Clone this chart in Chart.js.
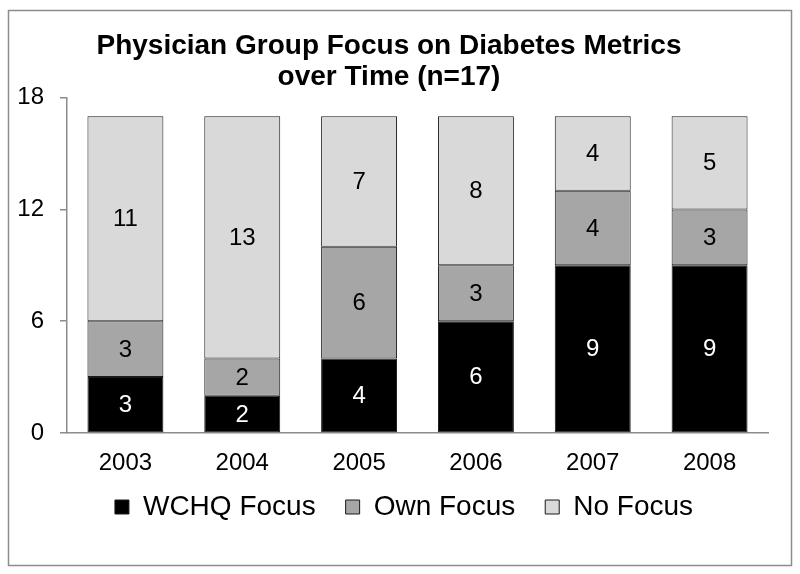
<!DOCTYPE html>
<html>
<head>
<meta charset="utf-8">
<script src="https://cdn.jsdelivr.net/npm/chart.js@4/dist/chart.umd.min.js"></script>
<style>
  html, body { margin: 0; padding: 0; background: #fff; }
  canvas { display: block; }
</style>
</head>
<body>
<canvas id="focusChart" width="800" height="574"></canvas>
<script>
// chart data
const years = ['2003', '2004', '2005', '2006', '2007', '2008'];
const wchqFocus = [3, 2, 4, 6, 9, 9];
const ownFocus = [3, 2, 6, 3, 4, 3];
const noFocus = [11, 13, 7, 8, 4, 5];
const yTicks = [0, 6, 12, 18];

const FONT = "'Liberation Sans', Arial, sans-serif";

// outer frame like the pasted office chart
const framePlugin = {
    id: 'frame',
    beforeDraw(chart) {
        const ctx = chart.ctx;
        ctx.save();
        ctx.fillStyle = '#fff';
        ctx.fillRect(0, 0, chart.width, chart.height);
        ctx.strokeStyle = '#8c8c8c';
        ctx.lineWidth = 1.5;
        ctx.strokeRect(8.5, 10.5, 783, 555);
        ctx.restore();
    }
};

// legend sits closer under the year labels than chart.js would put it
const legendNudge = {
    id: 'legendNudge',
    afterLayout(chart) {
        const lg = chart.legend;
        if (!lg) return;
        const h = lg.bottom - lg.top;
        lg.top = 463; lg.bottom = 463 + h;
        lg.left += 15; lg.right += 15;
    }
};

// value labels in the middle of every segment
const valueLabels = {
    id: 'valueLabels',
    afterDatasetsDraw(chart) {
        const ctx = chart.ctx;
        ctx.save();
        ctx.font = '24px ' + FONT;
        ctx.textAlign = 'center';
        ctx.textBaseline = 'middle';
        chart.data.datasets.forEach((ds, i) => {
            const meta = chart.getDatasetMeta(i);
            meta.data.forEach((bar, j) => {
                const v = ds.data[j];
                if (!v) return;
                ctx.fillStyle = i === 0 ? '#fff' : '#000';
                ctx.fillText(String(v), bar.x, (bar.y + bar.base) / 2 + 1);
            });
        });
        ctx.restore();
    }
};

const barStyle = { borderColor: '#1a1a1a', borderWidth: 1, borderSkipped: false,
                   barPercentage: 0.65, categoryPercentage: 1 };

new Chart(document.getElementById('focusChart').getContext('2d'), {
    type: 'bar',
    data: {
        labels: years,
        datasets: [
            { label: 'WCHQ Focus', data: wchqFocus, backgroundColor: '#000000', ...barStyle },
            { label: 'Own Focus', data: ownFocus, backgroundColor: '#a6a6a6', ...barStyle },
            { label: 'No Focus', data: noFocus, backgroundColor: '#d9d9d9', ...barStyle }
        ]
    },
    options: {
        responsive: false,
        animation: false,
        devicePixelRatio: 1,
        layout: { padding: { top: 21, left: 10, right: 32, bottom: 27 } },
        plugins: {
            title: {
                display: true,
                text: ['Physician Group Focus on Diabetes Metrics', 'over Time (n=17)'],
                color: '#000',
                font: { family: FONT, size: 28, weight: 'bold', lineHeight: 1.1 },
                padding: { top: 10, bottom: 5 }
            },
            legend: {
                position: 'bottom',
                labels: {
                    color: '#000',
                    font: { family: FONT, size: 28 },
                    boxWidth: 14,
                    boxHeight: 14,
                    padding: 30
                }
            },
            tooltip: { enabled: false }
        },
        scales: {
            x: {
                stacked: true,
                grid: { display: false },
                border: { display: true, color: '#8c8c8c', width: 1.5 },
                ticks: { color: '#000', font: { family: FONT, size: 24 }, padding: 8 },
                afterFit(scale) { scale.height = 46; }
            },
            y: {
                stacked: true,
                min: 0,
                max: 18,
                afterBuildTicks(scale) { scale.ticks = yTicks.map(v => ({ value: v })); },
                grid: { drawOnChartArea: false, drawTicks: true, tickLength: 7, color: '#8c8c8c', lineWidth: 1.5 },
                border: { display: true, color: '#8c8c8c', width: 1.5 },
                ticks: { color: '#000', font: { family: FONT, size: 24 }, padding: 16 },
                afterFit(scale) { scale.width = 57; }
            }
        }
    },
    plugins: [framePlugin, legendNudge, valueLabels]
});
</script>
</body>
</html>
